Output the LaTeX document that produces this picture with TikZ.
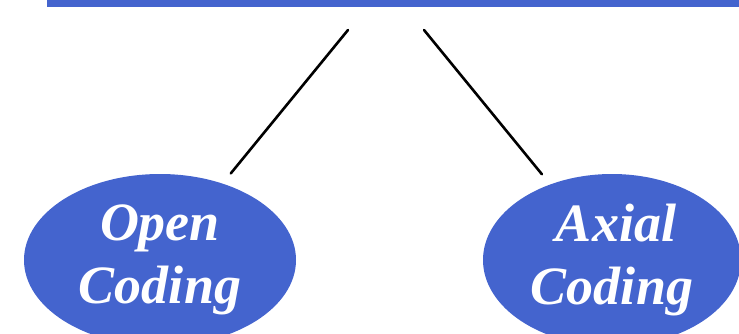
\documentclass[tikz,border=0pt]{standalone}
\usepackage{fontspec}
\setmainfont{Liberation Serif}
\usetikzlibrary{shapes.geometric}
\definecolor{codeblue}{RGB}{68,100,206}

\begin{document}
\begin{tikzpicture}[x=1pt,y=-1pt,
  blob/.style={ellipse, fill=codeblue, inner sep=0pt, text=white, align=center,
    font=\bfseries\itshape\fontsize{54}{63}\selectfont},
  link/.style={line width=2.6pt, line cap=round, shorten >=13pt}]
\useasboundingbox (0,0) rectangle (739,334);
% Bar along the top edge
\fill[codeblue] (47,-10) rectangle (745,7);
% The two codings
\node[blob, minimum width=272pt, minimum height=172pt] (open) at (160,260) {Open\\Coding};
\node[blob, minimum width=258pt, minimum height=172pt] (axial) at (612,260) {\hspace*{8pt}Axial\\Coding};
% Upper ends of the links
\coordinate (linkL) at (348,30);
\coordinate (linkR) at (424,30);
\draw[link] (linkL) -- (open);
\draw[link] (linkR) -- (axial);
\end{tikzpicture}
\end{document}
